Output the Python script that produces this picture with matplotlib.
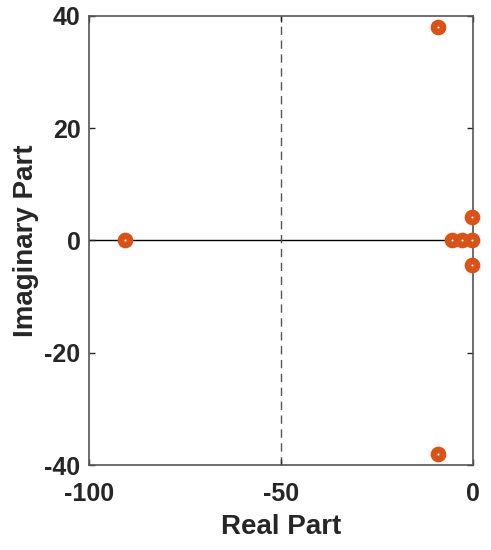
import matplotlib
matplotlib.use("Agg")
import matplotlib.pyplot as plt

real_part = [-90.6, -9.1, -9.1, -0.3, -0.3, -5.5, -2.9, -0.3]
imag_part = [0.0, 38.0, -38.1, 4.2, -4.4, 0.0, 0.0, 0.0]
x_ticks = [-100, -50, 0]
y_ticks = [-40, -20, 0, 20, 40]

plt.rcParams['font.family'] = ['Liberation Sans', 'DejaVu Sans']
plt.rcParams['font.weight'] = 'bold'
plt.rcParams['axes.unicode_minus'] = False

fig = plt.figure(figsize=(4.91, 5.5), dpi=100)
ax = fig.add_axes([0.181, 0.1545, 0.782, 0.8165])

ax.axhline(0, color='black', lw=1.0, zorder=1)
ax.axvline(-50, color='#555555', lw=1.0, ls=(0, (6, 4)), zorder=1)
ax.plot(real_part, imag_part, ls='none', marker='o', ms=6.5, mfc='white',
        mec='#D95319', mew=4.8, zorder=3, clip_on=False)

ax.set_xlim(-100, 0)
ax.set_ylim(-40, 40)
ax.set_xticks(x_ticks)
ax.set_yticks(y_ticks)
ax.tick_params(direction='in', length=4, width=1, colors='#262626', labelsize=18,
               top=True, right=True)
ax.tick_params(axis='x', pad=12)
ax.tick_params(axis='y', pad=6)
for lab in ax.get_xticklabels() + ax.get_yticklabels():
    lab.set_fontweight('bold')
for s in ax.spines.values():
    s.set_color('#555555')
    s.set_linewidth(1.2)

ax.set_xlabel('Real Part', fontsize=20, fontweight='bold', color='#262626', labelpad=6)
ax.set_ylabel('Imaginary Part', fontsize=20, fontweight='bold', color='#262626', labelpad=4)

fig.savefig('out.png', dpi=100)
